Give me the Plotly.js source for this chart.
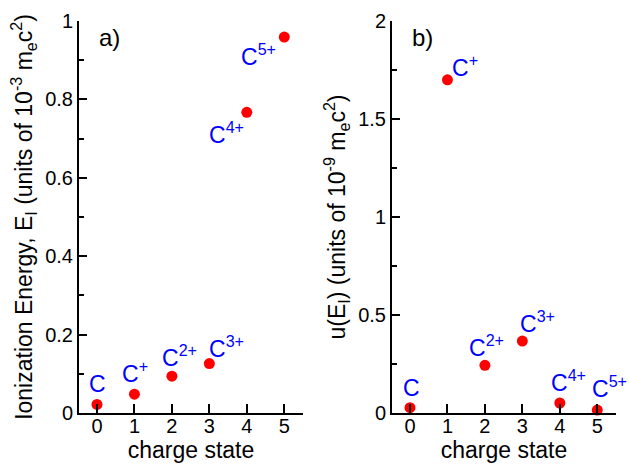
<!DOCTYPE html>
<html>
<head>
<meta charset="utf-8">
<script src="https://cdn.plot.ly/plotly-3.0.1.min.js"></script>
<style>html,body{margin:0;padding:0;background:#fff;}#chart{width:629px;height:464px;}</style>
</head>
<body>
<div id="chart"></div>
<script>
// ---- data ----
const chargeState = [0, 1, 2, 3, 4, 5];
const ionLabels = ['C', 'C<sup>+</sup>', 'C<sup>2+</sup>', 'C<sup>3+</sup>', 'C<sup>4+</sup>', 'C<sup>5+</sup>'];
const ionizationEnergy = [0.022, 0.048, 0.094, 0.126, 0.767, 0.959];   // units of 1e-3 me c^2
const uncertainty = [0.027, 1.70, 0.243, 0.367, 0.051, 0.015];          // units of 1e-9 me c^2
const xTicks = [0, 1, 2, 3, 4, 5];

// ---- label placement (pixel offsets from each point) ----
const offA = [[-8, 12], [-12, 12], [-10, 10], [0, 7], [-38, -31], [-43, -28]];
const offB = [[-7, 12], [5, 4], [-16, 9], [-2, 9], [-9, 12], [-5, 13]];

const FONT = 'Liberation Sans, Arial, sans-serif';
const RED = '#ff0000', BLUE = '#0000ff';
const DESC = 6;

function mkTrace(y, xa, ya) {
  return {x: chargeState, y: y, xaxis: xa, yaxis: ya, mode: 'markers', type: 'scatter',
    marker: {color: RED, size: 11}, cliponaxis: false, hoverinfo: 'skip', showlegend: false};
}
const annotations = [];
function addLabels(y, xr, yr, off) {
  chargeState.forEach((x, i) => {
    annotations.push({x: x, y: y[i], xref: xr, yref: yr, text: ionLabels[i], showarrow: false,
      xanchor: 'left', yanchor: 'bottom', xshift: off[i][0] - 1, yshift: off[i][1] - DESC,
      borderpad: 0, font: {family: FONT, size: 23, color: BLUE}});
  });
}
addLabels(ionizationEnergy, 'x', 'y', offA);
addLabels(uncertainty, 'x2', 'y2', offB);
annotations.push({text: 'a)', xref: 'paper', yref: 'paper', x: 97/629, y: 1, yshift: -1, xanchor: 'left', yanchor: 'top', showarrow: false, font: {family: FONT, size: 24, color: '#000'}});
annotations.push({text: 'b)', xref: 'x2 domain', yref: 'paper', x: 0.08, y: 1, yshift: -1, xanchor: 'left', yanchor: 'top', showarrow: false, font: {family: FONT, size: 24, color: '#000'}});

const xaxisBase = {
  range: [-0.48, 5.5], showline: true, linewidth: 2, linecolor: '#000', mirror: false,
  ticks: 'inside', ticklen: 9, tickwidth: 2, tickcolor: '#000', tickvals: xTicks,
  ticklabelstandoff: -6,
  showgrid: false, zeroline: false, tickfont: {family: FONT, size: 20, color: '#000'},
  title: {text: 'charge state', font: {family: FONT, size: 23, color: '#000'}, standoff: 0}
};
const yaxisBase = {
  showline: true, linewidth: 2, linecolor: '#000', ticks: 'inside', ticklen: 8, tickwidth: 2,
  tickcolor: '#000', showgrid: false, zeroline: false,
  tickfont: {family: FONT, size: 20, color: '#000'}
};

const layout = {
  width: 629, height: 464, margin: {l: 0, r: 0, t: 21, b: 51},
  paper_bgcolor: '#fff', plot_bgcolor: 'rgba(0,0,0,0)', showlegend: false,
  xaxis: Object.assign({}, xaxisBase, {domain: [79/629, 303/629], anchor: 'y'}),
  xaxis2: Object.assign({}, xaxisBase, {domain: [392/629, 616/629], anchor: 'y2'}),
  yaxis: Object.assign({}, yaxisBase, {range: [0, 1], dtick: 0.2, tick0: 0, anchor: 'x',
    minor: {dtick: 0.1, ticks: 'inside', ticklen: 5, tickwidth: 2, tickcolor: '#000', showgrid: false},
    title: {text: 'Ionization Energy, E<sub>I</sub> (units of 10<sup>-3</sup> m<sub>e</sub>c<sup>2</sup>)', font: {family: FONT, size: 23, color: '#000'}, standoff: 6}}),
  yaxis2: Object.assign({}, yaxisBase, {range: [0, 2], dtick: 0.5, tick0: 0, anchor: 'x2',
    minor: {dtick: 0.25, ticks: 'inside', ticklen: 5, tickwidth: 2, tickcolor: '#000', showgrid: false},
    title: {text: 'u(E<sub>I</sub>) (units of 10<sup>-9</sup> m<sub>e</sub>c<sup>2</sup>)', font: {family: FONT, size: 23, color: '#000'}, standoff: 6}}),
  annotations: annotations
};

Plotly.newPlot('chart', [mkTrace(ionizationEnergy, 'x', 'y'), mkTrace(uncertainty, 'x2', 'y2')], layout, {staticPlot: true, displayModeBar: false});
</script>
</body>
</html>
